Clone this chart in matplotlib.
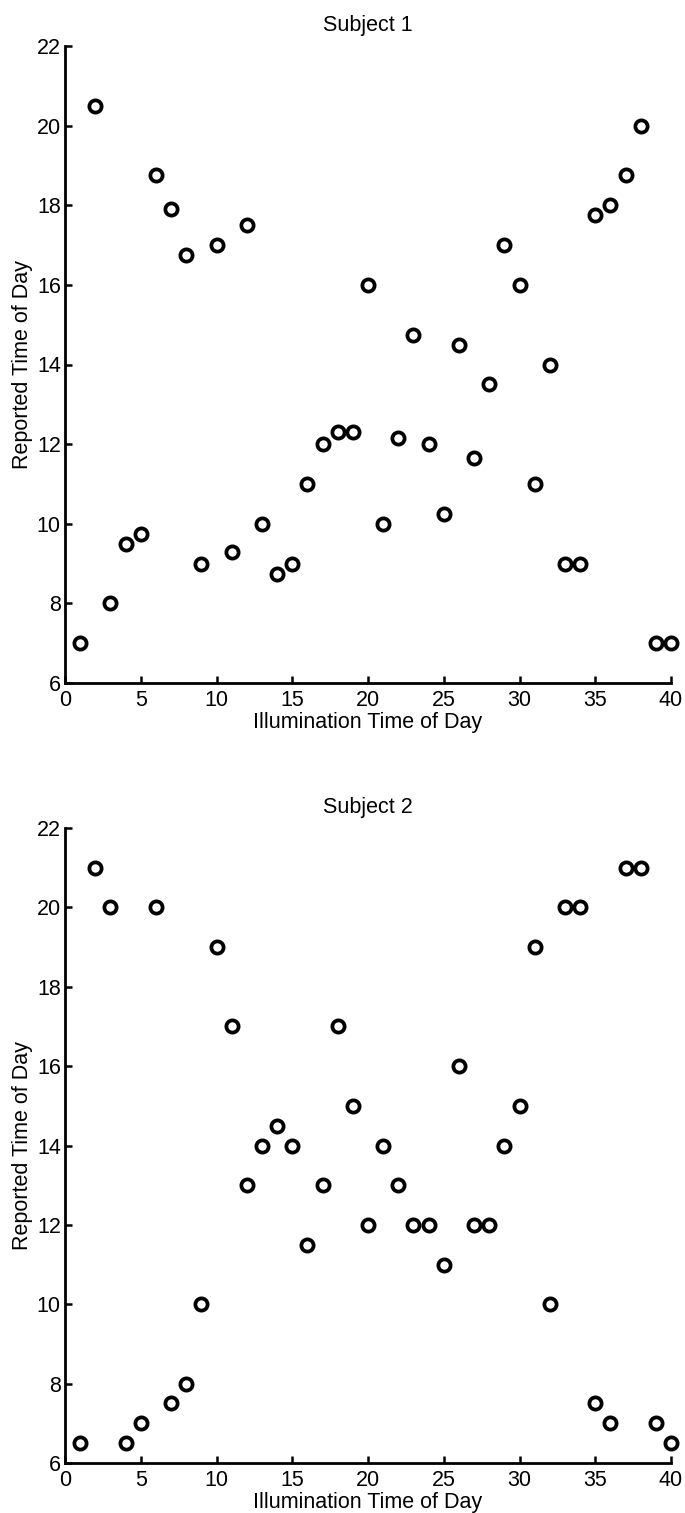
import numpy as np
import matplotlib.pyplot as plt

# illumination time (trial) and reported time for each subject
days = np.arange(1, 41)
subject1 = [7, 20.5, 8, 9.5, 9.75, 18.75, 17.9, 16.75, 9, 17,
            9.3, 17.5, 10, 8.75, 9, 11, 12, 12.3, 12.3, 16,
            10, 12.15, 14.75, 12, 10.25, 14.5, 11.65, 13.5, 17, 16,
            11, 14, 9, 9, 17.75, 18, 18.75, 20, 7, 7]
subject2 = [6.5, 21, 20, 6.5, 7, 20, 7.5, 8, 10, 19,
            17, 13, 14, 14.5, 14, 11.5, 13, 17, 15, 12,
            14, 13, 12, 12, 11, 16, 12, 12, 14, 15,
            19, 10, 20, 20, 7.5, 7, 21, 21, 7, 6.5]
titles = ["Subject 1", "Subject 2"]
xticks = np.arange(0, 41, 5)
yticks = np.arange(6, 23, 2)

plt.rcParams['font.family'] = ['Liberation Sans Narrow', 'Liberation Sans', 'DejaVu Sans']

W, H = 685, 1513
fig = plt.figure(figsize=(W / 100, H / 100), dpi=100)

# axes boxes in pixels: left, top, right, bottom
boxes = [(65, 46, 671, 683), (65, 828, 671, 1463)]

for (l, t, r, b), ys, title in zip(boxes, [subject1, subject2], titles):
    ax = fig.add_axes([l / W, 1 - b / H, (r - l) / W, (b - t) / H])
    ax.plot(days, ys, 'o', ms=8.8, mfc='white', mec='black', mew=2.7, clip_on=False)
    ax.set_xlim(0, 40)
    ax.set_ylim(6, 22)
    ax.set_xticks(xticks)
    ax.set_yticks(yticks)
    ax.spines['top'].set_visible(False)
    ax.spines['right'].set_visible(False)
    ax.spines['left'].set_linewidth(2.0)
    ax.spines['bottom'].set_linewidth(2.0)
    ax.tick_params(direction='in', length=5, width=1.8, labelsize=15.5)
    ax.tick_params(axis='x', pad=5)
    ax.tick_params(axis='y', pad=3)
    ax.set_title(title, fontsize=15.5, pad=11)
    ax.set_xlabel("Illumination Time of Day", fontsize=15.5, labelpad=1)
    ax.set_ylabel("Reported Time of Day", fontsize=15.5, labelpad=3)

fig.savefig("out.png", dpi=100)
